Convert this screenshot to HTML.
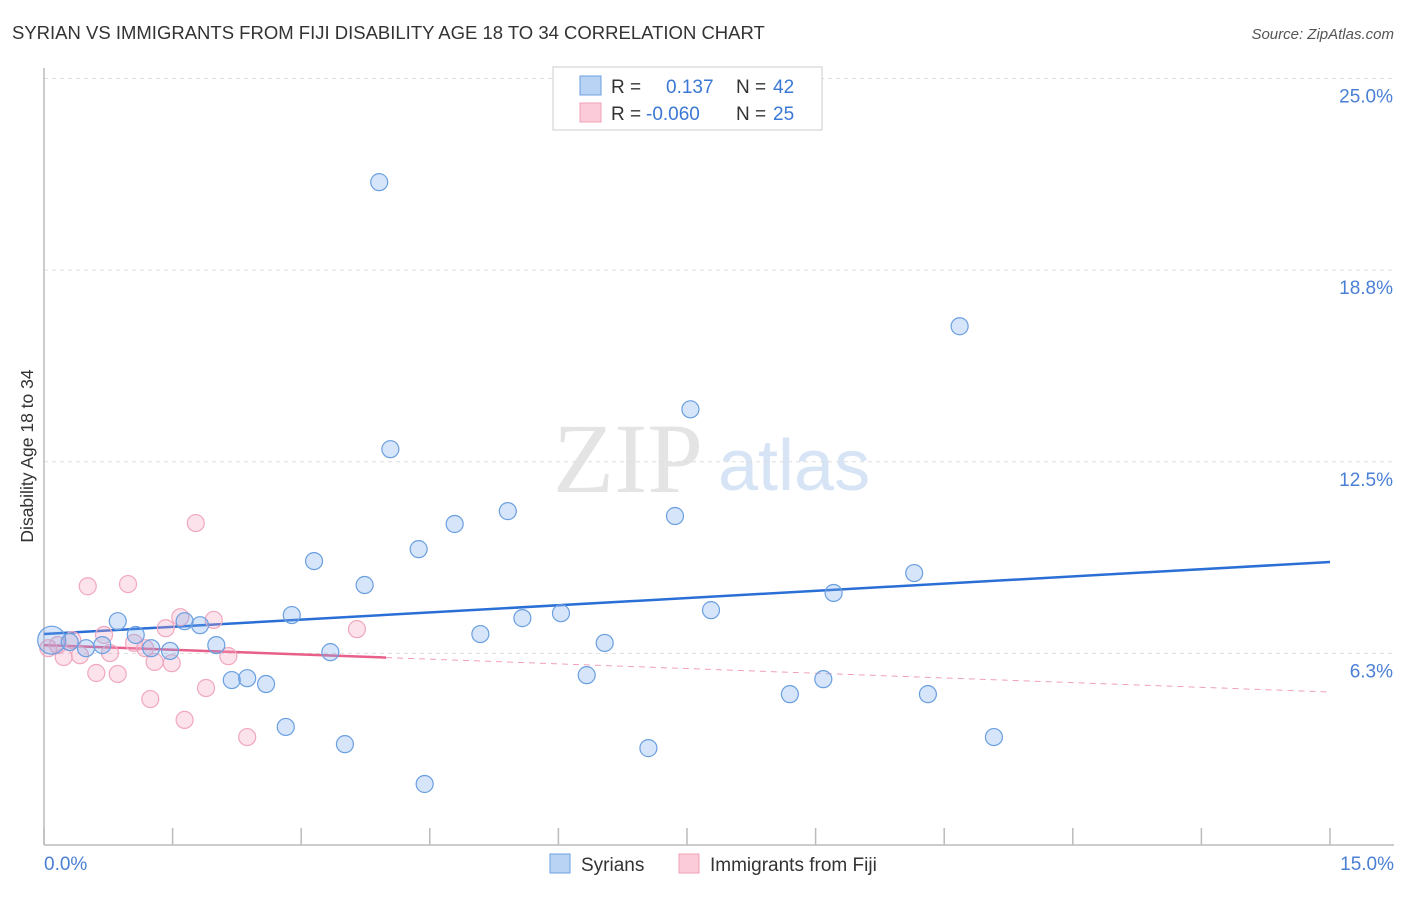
<!DOCTYPE html>
<html><head><meta charset="utf-8"><style>
body{margin:0;background:#fff;font-family:"Liberation Sans",sans-serif;}
</style></head><body>
<svg id="chart" width="1406" height="892" viewBox="0 0 1406 892" font-family="Liberation Sans, sans-serif">
<text x="12" y="39" font-size="18.5" fill="#333">SYRIAN VS IMMIGRANTS FROM FIJI DISABILITY AGE 18 TO 34 CORRELATION CHART</text>
<text x="1394" y="39" font-size="15" fill="#555" text-anchor="end" font-style="italic">Source: ZipAtlas.com</text>
<g>
<text x="553" y="492" font-size="100" fill="#e4e4e4" style="font-family:'Liberation Serif',serif">ZIP</text>
<text x="718" y="490" font-size="72" fill="#d6e4f5">atlas</text>
</g>
<g id="grid"></g>
<line x1="44" y1="68" x2="44" y2="845" stroke="#bbb" stroke-width="1.5"/>
<line x1="44" y1="845" x2="1394" y2="845" stroke="#bbb" stroke-width="1.5"/>
<g id="ticks"></g>
<text transform="translate(33,456) rotate(-90)" font-size="17.5" fill="#333" text-anchor="middle">Disability Age 18 to 34</text>
<text x="44" y="870" font-size="19" fill="#4a7fd4">0.0%</text>
<text x="1394" y="870" font-size="19" fill="#4a7fd4" text-anchor="end">15.0%</text>
<g id="lines"></g>
<g id="points"></g>
<g>
<rect x="553" y="67" width="269" height="63" fill="#fff" stroke="#ccc"/>
<rect x="580" y="76" width="21" height="19" fill="#b9d3f5" stroke="#6a9fe0"/>
<rect x="580" y="103" width="21" height="19" fill="#fbcbd9" stroke="#f0a0b8"/>
<text x="611" y="93" font-size="19" fill="#333">R =</text>
<text x="666" y="93" font-size="19" fill="#3a78d4">0.137</text>
<text x="736" y="93" font-size="19" fill="#333">N =</text>
<text x="773" y="93" font-size="19" fill="#3a78d4">42</text>
<text x="611" y="120" font-size="19" fill="#333">R =</text>
<text x="646" y="120" font-size="19" fill="#3a78d4">-0.060</text>
<text x="736" y="120" font-size="19" fill="#333">N =</text>
<text x="773" y="120" font-size="19" fill="#3a78d4">25</text>
</g>
<g>
<rect x="550" y="854" width="20" height="19" fill="#b9d3f5" stroke="#6a9fe0"/>
<text x="581" y="871" font-size="19" fill="#333">Syrians</text>
</g>
<g>
<rect x="679" y="854" width="20" height="19" fill="#fbcbd9" stroke="#f0a0b8"/>
<text x="710" y="871" font-size="19" fill="#333">Immigrants from Fiji</text>
</g>
</svg>
<script>
const yTicks=[6.25,12.5,18.75,25];
const yTickLabels=["6.3%","12.5%","18.8%","25.0%"];
const xTicks=[0,1.5,3,4.5,6,7.5,9,10.5,12,13.5,15];
const syrX=[0.09,0.30,0.49,0.68,0.86,1.07,1.25,1.47,1.64,1.82,2.01,2.19,2.37,2.59,2.82,2.89,3.15,3.34,3.51,3.74,3.91,4.04,4.37,4.79,5.09,5.41,5.58,6.03,6.33,6.54,7.05,7.36,7.54,7.78,8.70,9.09,9.21,10.15,10.31,10.68,11.08,4.44];
const syrY=[6.68,6.62,6.42,6.52,7.30,6.85,6.42,6.33,7.30,7.17,6.52,5.38,5.44,5.25,3.85,7.50,9.26,6.29,3.29,8.48,21.62,12.91,9.65,10.47,6.88,10.89,7.40,7.56,5.54,6.59,3.16,10.73,14.21,7.66,4.92,5.41,8.22,8.87,4.92,16.92,3.52,1.99];
const fijiX=[0.05,0.16,0.23,0.33,0.42,0.51,0.61,0.70,0.77,0.86,0.98,1.05,1.18,1.24,1.29,1.42,1.49,1.59,1.64,1.77,1.89,1.98,2.15,2.37,3.65];
const fijiY=[6.42,6.52,6.13,6.68,6.19,8.44,5.61,6.85,6.26,5.58,8.51,6.59,6.42,4.76,5.97,7.07,5.93,7.43,4.08,10.50,5.12,7.34,6.16,3.52,7.04];
const syrTrend=[6.88,9.23];
const fijiTrend=[6.52,4.99];
const fijiSolidEnd=3.99;
const NS="http://www.w3.org/2000/svg";
const X=v=>44+v/15*1286;
const Y=v=>845-v/25*766.5;
function mk(tag,attrs,parent){const e=document.createElementNS(NS,tag);for(const k in attrs)e.setAttribute(k,attrs[k]);document.getElementById(parent).appendChild(e);return e;}
yTicks.forEach((t,i)=>{
 const g=mk('line',{x1:44,x2:1394,y1:Y(t),y2:Y(t),stroke:'#ddd','stroke-dasharray':'4,4'},'grid');
 
 
 const l=mk('text',{x:1393,y:Y(t)+24,'font-size':19,fill:'#4a7fd4','text-anchor':'end'},'grid');
 l.textContent=yTickLabels[i];
 
 
});
xTicks.forEach(t=>{
 const l=mk('line',{x1:X(t),x2:X(t),y1:828,y2:845,stroke:'#bbb','stroke-width':1.5},'ticks');
 
 
});
const bl=mk('line',{x1:X(0),y1:Y(syrTrend[0]),x2:X(15),y2:Y(syrTrend[1]),stroke:'#2a6fd6','stroke-width':2.5},'lines');


const fy=x=>fijiTrend[0]+(fijiTrend[1]-fijiTrend[0])*x/15;
const pd=mk('line',{x1:X(fijiSolidEnd),y1:Y(fy(fijiSolidEnd)),x2:X(15),y2:Y(fijiTrend[1]),stroke:'#f0a0b8','stroke-width':1,'stroke-dasharray':'6,5'},'lines');


const ps=mk('line',{x1:X(0),y1:Y(fijiTrend[0]),x2:X(fijiSolidEnd),y2:Y(fy(fijiSolidEnd)),stroke:'#e8608a','stroke-width':2.5},'lines');


fijiX.forEach((x,i)=>{
 const c=mk('circle',{cx:X(x),cy:Y(fijiY[i]),r:8.5,fill:'rgba(244,160,188,0.3)',stroke:'#f0a8be','stroke-width':1.2},'points');
 
 
});
syrX.forEach((x,i)=>{
 const c=mk('circle',{cx:X(x),cy:Y(syrY[i]),r:i===0?14:8.5,fill:'rgba(120,170,235,0.3)',stroke:'#6a9fe0','stroke-width':1.2},'points');
 
 
});
</script>
</body></html>
